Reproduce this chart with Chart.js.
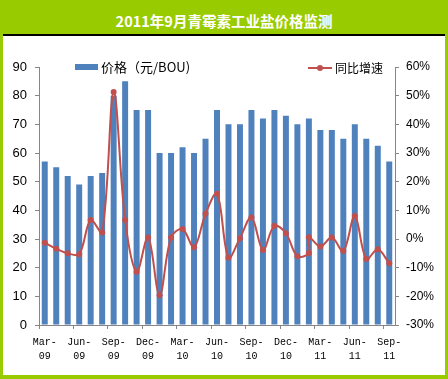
<!DOCTYPE html>
<html>
<head>
<meta charset="utf-8">
<script src="https://cdn.jsdelivr.net/npm/chart.js@4/dist/chart.umd.min.js"></script>
<style>
  html, body { margin: 0; padding: 0; background: #fff; }
  #frame { position: relative; width: 448px; height: 379px; background: #fff; overflow: hidden; }
  #titlebar { position: absolute; left: 0; top: 0; width: 448px; height: 34px; background: #99CC00; }
  #title { position: absolute; left: 0; top: 0; width: 448px; height: 34px; line-height: 42px; text-align: center;
           color: #fff; font-family: "Noto Sans CJK SC", sans-serif; font-weight: bold; font-size: 14.5px; }
  #blackline { position: absolute; left: 3px; top: 34px; width: 442px; height: 2px; background: #000; }
  #lb { position: absolute; left: 0; top: 34px; width: 3px; height: 345px; background: #99CC00; }
  #rb { position: absolute; left: 445px; top: 34px; width: 3px; height: 345px; background: #99CC00; }
  #bb { position: absolute; left: 0; top: 375px; width: 448px; height: 4px; background: #99CC00; }
  canvas { position: absolute; left: 0; top: 0; }
  .lg { position: absolute; font-family: "Noto Sans CJK SC", sans-serif; color: #000; white-space: nowrap; }
  #lgBox { position: absolute; left: 75px; top: 64px; width: 23px; height: 6px; background: #4F81BD; }
  #lgLine { position: absolute; left: 308px; top: 67px; width: 24px; height: 2px; background: #C0504D; }
  #lgDot { position: absolute; left: 317px; top: 65px; width: 6px; height: 6px; border-radius: 3px; background: #C0504D; }
</style>
</head>
<body>
<div id="frame">
  <div id="titlebar"></div>
  <div id="title">2011年9月青霉素工业盐价格监测</div>
  <div id="blackline"></div>
  <div id="lb"></div><div id="rb"></div><div id="bb"></div>
  <canvas id="c" width="448" height="379"></canvas>
  <div id="lgBox"></div>
  <div class="lg" style="left:101px; top:58px; font-size:13px; line-height:18px;">价格（元/BOU)</div>
  <div id="lgLine"></div><div id="lgDot"></div>
  <div class="lg" style="left:335px; top:59px; font-size:12px; line-height:18px;">同比增速</div>
</div>
<script>
// Categories (months)
const months = [
  'Mar-09','Apr-09','May-09','Jun-09','Jul-09','Aug-09','Sep-09','Oct-09','Nov-09','Dec-09',
  'Jan-10','Feb-10','Mar-10','Apr-10','May-10','Jun-10','Jul-10','Aug-10','Sep-10','Oct-10','Nov-10','Dec-10',
  'Jan-11','Feb-11','Mar-11','Apr-11','May-11','Jun-11','Jul-11','Aug-11','Sep-11'
];
// 价格 (元/BOU)
const prices = [
  57, 55, 52, 49, 52, 53, 80, 85, 75, 75,
  60, 60, 62, 60, 65, 75, 70, 70, 75, 72, 75, 73,
  70, 72, 68, 68, 65, 70, 65, 62.5, 57
];
// 同比增速 (%) — the line carries two points in Feb-11
const growthMonths = [
  'Mar-09','Apr-09','May-09','Jun-09','Jul-09','Aug-09','Sep-09','Oct-09','Nov-09','Dec-09',
  'Jan-10','Feb-10','Mar-10','Apr-10','May-10','Jun-10','Jul-10','Aug-10','Sep-10','Oct-10','Nov-10','Dec-10',
  'Jan-11','Feb-11','Feb-11','Mar-11','Apr-11','May-11','Jun-11','Jul-11','Aug-11','Sep-11'
];
const growth = [
  -1.3, -3.4, -5.0, -5.3, 6.6, 2.3, 51.3, 6.6, -11.4, 0.5,
  -19.6, 0.5, 3.5, -2.9, 8.8, 15.8, -6.5, 0.3, 7.5, -3.8, 4.6, 2.0,
  -6.0, -4.9, 0.6, -2.6, 0.5, -4.2, 8.0, -7.0, -3.6, -8.5
];

const axisGray = '#868686';
const lineData = growthMonths.map((m, i) => ({ x: m, y: growth[i] }));

new Chart(document.getElementById('c'), {
  data: {
    labels: months,
    datasets: [
      {
        type: 'line', label: '同比增速', data: lineData, yAxisID: 'y1', order: 0,
        borderColor: '#C0504D', borderWidth: 2, tension: 0.35,
        pointRadius: 3, pointBackgroundColor: '#C0504D', pointBorderColor: '#C0504D', pointBorderWidth: 0
      },
      {
        type: 'bar', label: '价格（元/BOU)', data: prices, yAxisID: 'y', order: 1,
        backgroundColor: '#4F81BD', barPercentage: 0.52, categoryPercentage: 1
      }
    ]
  },
  options: {
    responsive: false, animation: false, devicePixelRatio: 1,
    layout: { padding: { top: 67, left: 0, right: 0, bottom: 0 } },
    plugins: { legend: { display: false }, tooltip: { enabled: false } },
    scales: {
      x: {
        type: 'category', offset: true,
        grid: { offset: true, drawOnChartArea: false, drawTicks: true, tickLength: 4,
                color: ctx => (ctx.index % 3 === 0 ? axisGray : 'rgba(0,0,0,0)') },
        border: { display: true, color: axisGray, width: 1 },
        ticks: {
          autoSkip: false, maxRotation: 0, minRotation: 0, padding: 6, color: '#000',
          font: { family: 'Liberation Mono', size: 10, lineHeight: 1.45 },
          callback: function (v, i) {
            if (i % 3 !== 0) return '';
            const l = this.getLabelForValue(v).split('-');
            return [l[0] + '-', l[1]];
          }
        },
        afterFit: s => { s.height = 54; }
      },
      y: {
        position: 'left', min: 0, max: 90,
        grid: { drawOnChartArea: false, drawTicks: true, tickLength: 4, color: axisGray },
        border: { display: true, color: axisGray, width: 1 },
        ticks: { stepSize: 10, padding: 8, color: '#000', font: { family: 'Liberation Sans', size: 13 } },
        afterFit: s => { s.width = 39; }
      },
      y1: {
        position: 'right', min: -30, max: 60,
        grid: { drawOnChartArea: false, drawTicks: true, tickLength: 4, color: axisGray },
        border: { display: true, color: axisGray, width: 1 },
        ticks: { stepSize: 10, padding: 7, color: '#000', font: { family: 'Liberation Sans', size: 12 },
                 callback: v => v + '%' },
        afterFit: s => { s.width = 53; }
      }
    }
  }
});
</script>
</body>
</html>
